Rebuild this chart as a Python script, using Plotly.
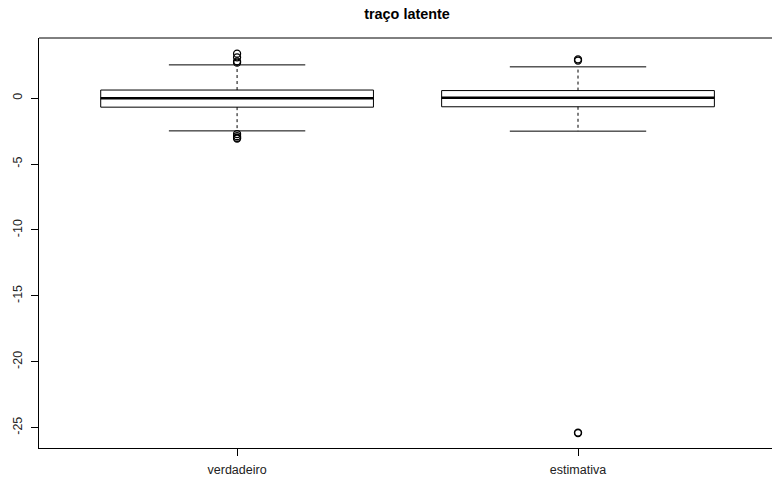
import plotly.graph_objects as go

# Summary statistics of the two groups (boxplot five-number summaries)
groups = ["verdadeiro", "estimativa"]
q1 = [-0.68, -0.65]
median = [0.0, 0.03]
q3 = [0.62, 0.58]
lower_whisker = [-2.48, -2.50]
upper_whisker = [2.53, 2.38]

# Points beyond the whiskers
outliers_verdadeiro = [3.38, 3.10, 2.80, 2.70, -2.72, -2.88, -3.00, -3.06]
outliers_estimativa = [2.95, 2.86, -25.38, -25.42]

y_tickvals = [0, -5, -10, -15, -20, -25]
y_ticktext = ["0", "-5", "-10", "-15", "-20", "-25"]

BOX_HALF = 0.4
CAP_HALF = 0.2
LINE = dict(color="black", width=1)
FONT = "Liberation Sans, Arial, sans-serif"

fig = go.Figure()
outliers = [outliers_verdadeiro, outliers_estimativa]

for i, name in enumerate(groups):
    xc = i + 1
    # box outline
    fig.add_trace(go.Scatter(
        x=[xc - BOX_HALF, xc + BOX_HALF, xc + BOX_HALF, xc - BOX_HALF, xc - BOX_HALF],
        y=[q1[i], q1[i], q3[i], q3[i], q1[i]],
        mode="lines", line=LINE, hoverinfo="skip"))
    # median
    fig.add_trace(go.Scatter(
        x=[xc - BOX_HALF, xc + BOX_HALF], y=[median[i], median[i]],
        mode="lines", line=dict(color="black", width=2.6), hoverinfo="skip"))
    # dashed whiskers
    fig.add_trace(go.Scatter(
        x=[xc, xc, None, xc, xc],
        y=[q3[i], upper_whisker[i], None, q1[i], lower_whisker[i]],
        mode="lines", line=dict(color="black", width=1, dash="3px,3px"),
        hoverinfo="skip"))
    # whisker caps
    fig.add_trace(go.Scatter(
        x=[xc - CAP_HALF, xc + CAP_HALF, None, xc - CAP_HALF, xc + CAP_HALF],
        y=[upper_whisker[i], upper_whisker[i], None, lower_whisker[i], lower_whisker[i]],
        mode="lines", line=LINE, hoverinfo="skip"))
    # outliers
    fig.add_trace(go.Scatter(
        x=[xc] * len(outliers[i]), y=outliers[i], mode="markers",
        marker=dict(symbol="circle-open", size=7, color="black",
                    line=dict(color="black", width=1.3)),
        hoverinfo="skip"))

fig.update_layout(
    width=772, height=477,
    margin=dict(l=39, r=0, t=38, b=24),
    paper_bgcolor="white", plot_bgcolor="white",
    showlegend=False,
    font=dict(family=FONT, size=12, color="#222222"),
    title=dict(text="<b>traço latente</b>", x=407 / 772, xref="container",
               xanchor="center", y=1 - 14 / 477, yref="container",
               yanchor="middle", font=dict(family=FONT, size=14.4, color="black")),
    # top border of the plotting region (the frame runs past the right edge)
    shapes=[dict(type="line", xref="paper", yref="paper", x0=0, x1=1, y0=1, y1=1,
                 line=dict(color="black", width=1))],
)

fig.update_xaxes(
    range=[0.419, 2.569], tickvals=[1, 2], ticktext=groups,
    showgrid=False, zeroline=False, showline=True, mirror=False,
    linecolor="black", linewidth=1, ticks="outside", ticklen=7,
    tickcolor="black", tickfont=dict(size=12.5), ticklabelstandoff=3)
fig.update_yaxes(
    range=[-26.55, 4.57], tickvals=y_tickvals, ticktext=y_ticktext,
    showgrid=False, zeroline=False, showline=True, mirror=False,
    linecolor="black", linewidth=1, ticks="outside", ticklen=7,
    tickcolor="black", tickangle=-90, tickfont=dict(size=12.5),
    ticklabelstandoff=4)

fig.write_html("out.html")
